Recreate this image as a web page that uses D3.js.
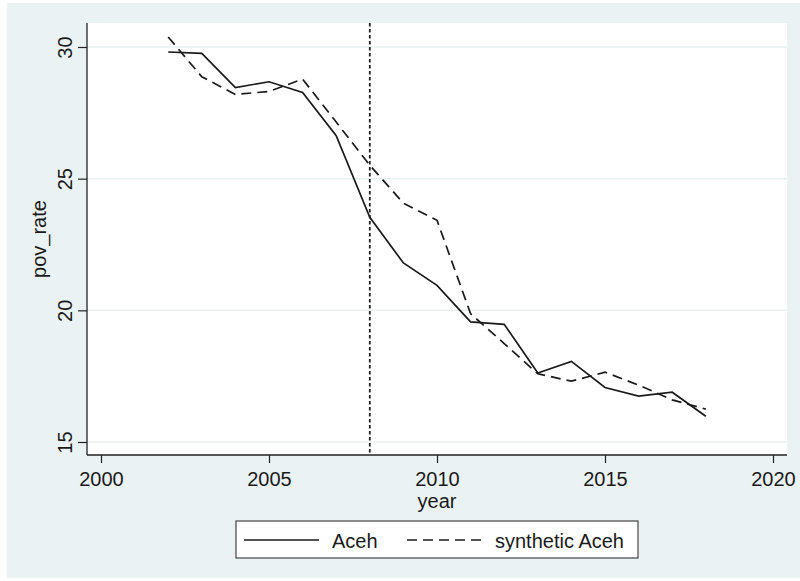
<!DOCTYPE html>
<html>
<head>
<meta charset="utf-8">
<script src="https://cdn.jsdelivr.net/npm/d3@7"></script>
<style>
  html, body { margin: 0; padding: 0; background: #ffffff; }
  svg { display: block; font-family: "Liberation Sans", Arial, sans-serif; }
</style>
</head>
<body>
<svg id="chart" width="800" height="581"></svg>
<script>
const years = [2002, 2003, 2004, 2005, 2006, 2007, 2008, 2009, 2010, 2011, 2012, 2013, 2014, 2015, 2016, 2017, 2018];
const aceh = [29.81, 29.76, 28.46, 28.68, 28.27, 26.63, 23.53, 21.80, 20.95, 19.56, 19.47, 17.62, 18.06, 17.07, 16.74, 16.89, 15.98];
const synthAceh = [30.38, 28.87, 28.20, 28.31, 28.78, 27.15, 25.51, 24.07, 23.42, 19.87, 18.74, 17.59, 17.31, 17.65, 17.16, 16.60, 16.25];
const xTicks = [2000, 2005, 2010, 2015, 2020];
const yTicks = [15, 20, 25, 30];
const interventionYear = 2008;
const seriesNames = ["Aceh", "synthetic Aceh"];
const xLabel = "year";
const yLabel = "pov_rate";

const svg = d3.select("#chart");
const bg = "#eaf2f3";

// outer background
svg.append("rect").attr("x", 7).attr("y", 3).attr("width", 793).attr("height", 575).attr("fill", bg);

const plot = { left: 87, right: 787, top: 23, bottom: 455 };
svg.append("rect").attr("x", plot.left).attr("y", plot.top)
  .attr("width", plot.right - plot.left).attr("height", plot.bottom - plot.top).attr("fill", "#ffffff");

const x = d3.scaleLinear().domain([2000, 2020]).range([101, 773]);
const y = d3.scaleLinear().domain([15, 30]).range([442, 47]);

// grid lines
svg.append("g").selectAll("line").data(yTicks).join("line")
  .attr("x1", plot.left).attr("x2", plot.right)
  .attr("y1", d => y(d)).attr("y2", d => y(d))
  .attr("stroke", "#e8eff1").attr("stroke-width", 1.5);

// y axis
const yAxis = svg.append("g").attr("transform", `translate(${plot.left},0)`)
  .call(d3.axisLeft(y).tickValues(yTicks).tickSize(9).tickFormat(d3.format("d")));
yAxis.select(".domain").attr("d", `M0,${plot.top}V${plot.bottom}`).attr("stroke", "#222").attr("stroke-width", 1.3);
yAxis.selectAll(".tick line").attr("stroke", "#222").attr("stroke-width", 1.2);
yAxis.selectAll(".tick text")
  .attr("x", null).attr("dy", null)
  .attr("transform", "translate(-15,0) rotate(-90)")
  .attr("text-anchor", "middle")
  .attr("font-size", 20).attr("fill", "#1a1a1a")
  .style("font-family", "Liberation Sans, Arial, sans-serif");

// x axis
const xAxis = svg.append("g").attr("transform", `translate(0,${plot.bottom})`)
  .call(d3.axisBottom(x).tickValues(xTicks).tickSize(8).tickFormat(d3.format("d")));
xAxis.select(".domain").attr("d", `M${plot.left},0H${plot.right}`).attr("stroke", "#222").attr("stroke-width", 1.3);
xAxis.selectAll(".tick line").attr("stroke", "#222").attr("stroke-width", 1.2);
xAxis.selectAll(".tick text")
  .attr("y", 31).attr("dy", null)
  .attr("font-size", 20).attr("fill", "#1a1a1a")
  .style("font-family", "Liberation Sans, Arial, sans-serif");

// axis titles
svg.append("text").attr("x", (plot.left + plot.right) / 2).attr("y", 508)
  .attr("text-anchor", "middle").attr("font-size", 20).attr("fill", "#1a1a1a").text(xLabel);
svg.append("text").attr("transform", `translate(46,${(plot.top + plot.bottom) / 2}) rotate(-90)`)
  .attr("text-anchor", "middle").attr("font-size", 20).attr("fill", "#1a1a1a").text(yLabel);

// intervention line
svg.append("line")
  .attr("x1", x(interventionYear)).attr("x2", x(interventionYear))
  .attr("y1", plot.top).attr("y2", plot.bottom)
  .attr("stroke", "#222").attr("stroke-width", 1.8).attr("stroke-dasharray", "3.5,2.5");

const line = d3.line().x((d, i) => x(years[i])).y(d => y(d));

svg.append("path").datum(synthAceh).attr("d", line)
  .attr("fill", "none").attr("stroke", "#1a1a1a").attr("stroke-width", 1.7)
  .attr("stroke-dasharray", "10,6");
svg.append("path").datum(aceh).attr("d", line)
  .attr("fill", "none").attr("stroke", "#1a1a1a").attr("stroke-width", 1.7);

// legend
const lg = svg.append("g");
lg.append("rect").attr("x", 236).attr("y", 521).attr("width", 402).attr("height", 37)
  .attr("fill", "#ffffff").attr("stroke", "#444").attr("stroke-width", 1.2);
lg.append("line").attr("x1", 244).attr("x2", 319).attr("y1", 540).attr("y2", 540)
  .attr("stroke", "#1a1a1a").attr("stroke-width", 1.7);
lg.append("text").attr("x", 332).attr("y", 547.5).attr("font-size", 20).attr("fill", "#1a1a1a").text(seriesNames[0]);
lg.append("line").attr("x1", 407).attr("x2", 483).attr("y1", 540).attr("y2", 540)
  .attr("stroke", "#1a1a1a").attr("stroke-width", 1.7).attr("stroke-dasharray", "10,6");
lg.append("text").attr("x", 495).attr("y", 547.5).attr("font-size", 20).attr("fill", "#1a1a1a").text(seriesNames[1]);
</script>
</body>
</html>
